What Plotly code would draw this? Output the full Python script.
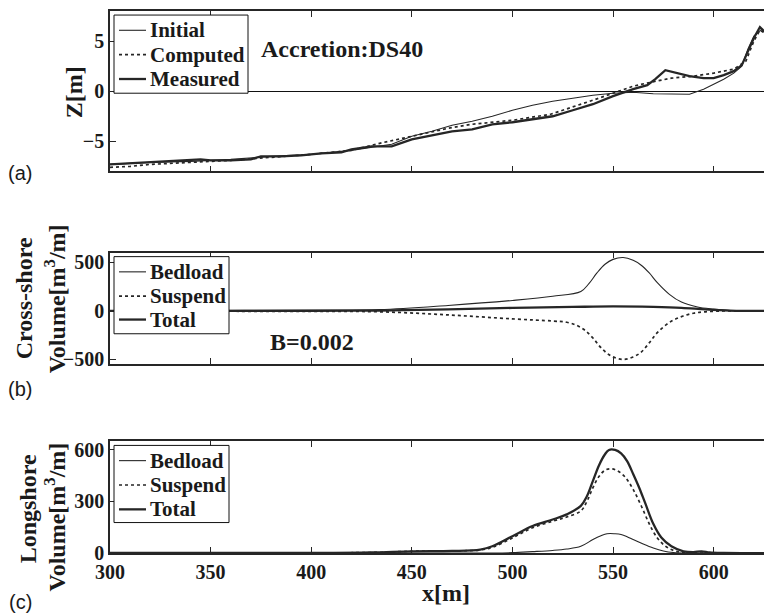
import plotly.graph_objects as go

# ---------- Panel (a): profiles ----------
xa_init = [300, 320, 340, 360, 380, 400, 420, 430, 440, 450, 460, 470, 480, 490, 500, 510, 520,
           530, 540, 550, 560, 570, 580, 588, 595, 600, 605, 610, 614, 617, 620, 624, 629]
za_init = [-7.3, -7.1, -7.0, -6.8, -6.5, -6.3, -5.9, -5.6, -5.3, -4.5, -4.0, -3.4, -3.0, -2.5, -1.9,
           -1.4, -1.0, -0.7, -0.4, -0.2, -0.1, -0.25, -0.3, -0.3, 0.2, 0.7, 1.2, 1.8, 2.5, 4.2, 5.5, 6.2, 5.0]

xa_comp = [300, 310, 320, 340, 360, 380, 400, 420, 434, 450, 468, 480, 500, 519, 530, 540, 550,
           560, 569, 579, 590, 600, 610, 616, 620, 623, 626, 629]
za_comp = [-7.6, -7.5, -7.3, -7.1, -6.9, -6.6, -6.3, -5.9, -5.2, -4.5, -3.7, -3.3, -2.9, -2.3, -1.6,
           -0.9, -0.2, 0.5, 0.9, 1.3, 1.5, 1.8, 2.2, 3.0, 5.0, 6.1, 5.7, 5.0]

xa_meas = [300, 310, 320, 330, 340, 345, 350, 360, 370, 375, 385, 395, 405, 415, 420, 430, 440, 450,
           460, 470, 480, 490, 500, 510, 520, 530, 540, 550, 560, 567, 571, 576, 582, 588, 595, 600,
           605, 610, 614, 617, 620, 623, 626, 629]
za_meas = [-7.3, -7.2, -7.1, -7.0, -6.9, -6.8, -6.9, -6.9, -6.8, -6.5, -6.5, -6.4, -6.2, -6.1, -5.8,
           -5.5, -5.5, -4.8, -4.4, -4.0, -3.8, -3.3, -3.1, -2.8, -2.5, -1.9, -1.3, -0.5, 0.2, 0.6, 1.2,
           2.1, 1.8, 1.5, 1.3, 1.3, 1.6, 2.0, 2.6, 4.0, 5.3, 6.4, 5.8, 4.8]

# ---------- Panel (b): cross-shore volume ----------
xb_bed = [300, 350, 400, 434, 468, 500, 520, 534, 538, 542, 546, 550, 555, 560, 564, 568, 572, 578,
          584, 592, 600, 607, 615, 629]
vb_bed = [2, 4, 7, 12, 55, 107, 150, 200, 280, 390, 480, 530, 549, 520, 470, 390, 290, 170,
          90, 40, 18, 5, 0, 0]

xb_sus = [300, 350, 400, 434, 468, 500, 520, 527, 532, 536, 540, 544, 549, 555, 560, 564, 568, 572,
          578, 584, 590, 596, 605, 615, 629]
vb_sus = [-2, -4, -7, -10, -42, -83, -105, -118, -150, -200, -280, -380, -465, -500, -475, -425,
          -330, -225, -120, -60, -25, -10, -2, 0, 0]

xb_tot = [300, 350, 400, 434, 468, 500, 530, 550, 570, 584, 596, 608, 615, 629]
vb_tot = [0, 0, 0, 3, 15, 30, 40, 45, 40, 31, 15, 3, 0, 0]

# ---------- Panel (c): longshore volume ----------
xc_bed = [300, 490, 500, 510, 520, 527, 534, 540, 544, 547, 551, 554, 557, 560, 565, 570, 575, 580,
          590, 629]
vc_bed = [0, 0, 2, 8, 15, 23, 39, 78, 100, 112, 112, 108, 95, 78, 52, 29, 12, 3, 0, 0]

xc_sus = [300, 430, 450, 470, 484, 490, 500, 510, 520, 527, 534, 537, 540, 543, 546, 549, 552, 556,
          560, 564, 568, 572, 576, 580, 585, 595, 629]
vc_sus = [0, 3, 10, 12, 18, 33, 88, 147, 185, 210, 245, 300, 380, 445, 482, 490, 480, 442,
          370, 275, 170, 88, 40, 15, 2, 0, 0]

xc_tot = [300, 400, 430, 450, 470, 484, 490, 500, 510, 520, 527, 534, 537, 540, 543, 546, 548, 551,
          554, 557, 560, 563, 566, 570, 574, 579, 585, 590, 594, 598, 605, 629]
vc_tot = [0, 0, 3, 10, 12, 20, 39, 98, 157, 195, 225, 274, 330, 420, 510, 575, 600, 600,
          580, 535, 460, 380, 290, 170, 90, 39, 10, 5, 10, 3, 0, 0]

x_ticks = [300, 350, 400, 450, 500, 550, 600]
ya_ticks = [-5, 0, 5]
yb_ticks = [-500, 0, 500]
yc_ticks = [0, 300, 600]

names_a = ["Initial", "Computed", "Measured"]
names_bc = ["Bedload", "Suspend", "Total"]

SERIF = "Liberation Serif"
SANS = "Liberation Sans"
C = "#262626"
STYLES = {
    "thin": dict(color=C, width=1.1, dash="solid"),
    "dot": dict(color=C, width=1.7, dash="dot"),
    "thick": dict(color=C, width=2.3, dash="solid"),
}
KINDS = ["thin", "dot", "thick"]

fig = go.Figure()

def add(x, y, name, xa, ya, kind, shape="linear"):
    line = dict(STYLES[kind], shape=shape)
    fig.add_trace(go.Scatter(x=x, y=y, name=name, mode="lines", line=line,
                             xaxis=xa, yaxis=ya, showlegend=False))

add(xa_init, za_init, names_a[0], "x", "y", "thin")
add(xa_comp, za_comp, names_a[1], "x", "y", "dot")
add(xa_meas, za_meas, names_a[2], "x", "y", "thick")

add(xb_bed, vb_bed, names_bc[0], "x2", "y2", "thin", "spline")
add(xb_sus, vb_sus, names_bc[1], "x2", "y2", "dot", "spline")
add(xb_tot, vb_tot, names_bc[2], "x2", "y2", "thick", "spline")

add(xc_bed, vc_bed, names_bc[0], "x3", "y3", "thin", "spline")
add(xc_sus, vc_sus, names_bc[1], "x3", "y3", "dot", "spline")
add(xc_tot, vc_tot, names_bc[2], "x3", "y3", "thick", "spline")

tickfont = dict(family=SERIF, size=20, color="#1a1a1a", weight="bold")

def xax(show_labels, anchor):
    return dict(range=[300, 629], tickvals=x_ticks, showticklabels=show_labels,
                ticks="inside", ticklen=6, tickcolor=C, tickwidth=1,
                showline=True, linecolor=C, linewidth=1.5, mirror="ticks",
                showgrid=False, zeroline=False, tickfont=tickfont, anchor=anchor,
                automargin=False)

def yax(rng, tv, dom, anchor, zl=False):
    return dict(range=rng, tickvals=tv, domain=dom, anchor=anchor,
                ticks="inside", ticklen=6, tickcolor=C, tickwidth=1,
                showline=True, linecolor=C, linewidth=1.5, mirror="ticks",
                showgrid=False, zeroline=zl, zerolinecolor="#111", zerolinewidth=1,
                tickfont=tickfont, automargin=False)

# the page body adds an 8px margin; compensate so the plot area lands at 110..772 x 11..545
fig.update_layout(
    width=764, height=606,
    margin=dict(l=102, r=0, t=3, b=61),
    paper_bgcolor="white", plot_bgcolor="white",
    xaxis=xax(False, "y"),
    xaxis2=xax(False, "y2"),
    xaxis3=xax(True, "y3"),
    yaxis=yax([-8, 8], ya_ticks, [0.7041, 1.0], "x", zl=True),
    yaxis2=yax([-550, 600], yb_ticks, [0.3483, 0.5543], "x2"),
    yaxis3=yax([0, 650], yc_ticks, [0.0, 0.206], "x3"),
    showlegend=False,
)

def PX(px):
    return (px - 110) / 662

def PY(py):
    return (545 - py) / 534

# ---- hand-built legends (box, line samples, labels) ----
shapes = []
ann = []
legfont = dict(family=SERIF, size=21, color="#1a1a1a", weight="bold")

def legend_box(x0, x1, y0, y1, rows, names):
    shapes.append(dict(type="rect", xref="paper", yref="paper", layer="above",
                       x0=PX(x0), x1=PX(x1), y0=PY(y1), y1=PY(y0),
                       line=dict(color="#111", width=1), fillcolor="white"))
    for ry, nm, kind in zip(rows, names, KINDS):
        st = STYLES[kind]
        shapes.append(dict(type="line", xref="paper", yref="paper", layer="above",
                           x0=PX(119), x1=PX(146), y0=PY(ry), y1=PY(ry),
                           line=dict(color=st["color"], width=st["width"], dash=st["dash"])))
        ann.append(dict(text=nm, x=PX(148), y=PY(ry), xref="paper", yref="paper",
                        xanchor="left", yanchor="middle", showarrow=False, font=legfont))

legend_box(114, 248, 15, 92, [30, 54, 78], names_a)
legend_box(114, 229, 253, 329, [268, 292, 315], names_bc)
legend_box(114, 229, 439, 515, [454, 478, 502], names_bc)

tf = dict(family=SERIF, size=24, color="#1a1a1a", weight="bold")

def A(text, px, py, font, angle=0):
    ann.append(dict(text=text, x=PX(px), y=PY(py), xref="paper", yref="paper",
                    xanchor="center", yanchor="middle", showarrow=False, font=font, textangle=angle))

A("Accretion:DS40", 342, 48, tf)
A("B=0.002", 312, 337, tf)
A("Z[m]", 74, 91, tf, -90)
A("Cross-shore", 24, 294, tf, -90)
A("Volume[m<sup>3</sup>/m]", 55, 295, tf, -90)
A("Longshore", 28, 502, tf, -90)
A("Volume[m<sup>3</sup>/m]", 55, 510, tf, -90)
A("x[m]", 446, 584, tf)
lf = dict(family=SANS, size=20, color="#1a1a1a")
A("(a)", 20, 171, lf)
A("(b)", 20, 383, lf)
A("(c)", 20, 593, lf)

fig.update_layout(shapes=shapes, annotations=ann)

fig.write_html("out.html")
